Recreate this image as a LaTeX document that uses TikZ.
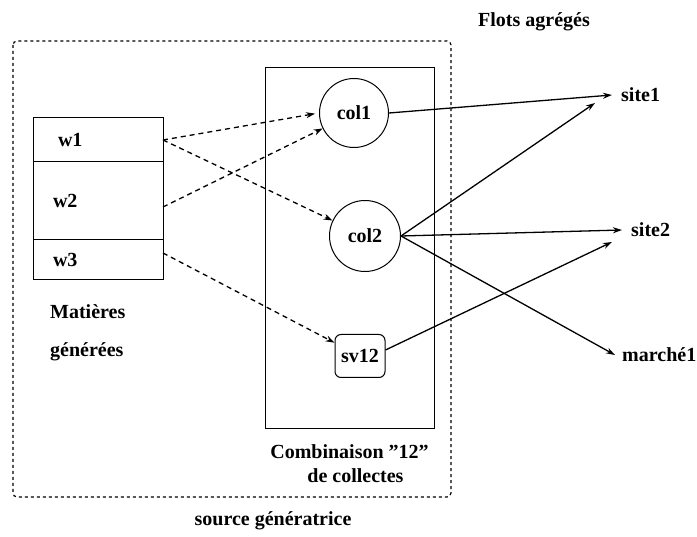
\documentclass[tikz,border=0pt]{standalone}
\usepackage{fontspec}
\setmainfont{Liberation Serif}
\usetikzlibrary{positioning,arrows.meta}

\begin{document}
\begin{tikzpicture}[x=1pt, y=-1pt,
    font=\fontsize{20}{24}\selectfont\bfseries,
    flux box/.style={draw, line width=1pt, minimum width=130pt, outer sep=0pt, text width=90pt, align=left, inner xsep=20pt},
    flux col/.style={circle, draw, line width=1pt, inner sep=0pt},
    flux site/.style={anchor=west, inner xsep=9pt, inner ysep=0pt},
    flux arrow/.style={-{Stealth[length=9pt,width=6pt]}, line width=1.3pt},
    flux dash/.style={flux arrow, dash pattern=on 5pt off 4pt}]

    \useasboundingbox (0,0) rectangle (697,537);

    % source generatrice
    \draw [line width=1.2pt, dash pattern=on 3pt off 3pt, rounded corners=4pt] (13,41) rectangle (451,497);
    \node (source) at (273,521) {source génératrice};
    \node (flots) at (534,22) {Flots agrégés};

    % matieres generees
    \node [flux box, minimum height=44pt] (w1) at (98,140) {\hspace{5pt}w1};
    \node [flux box, minimum height=78pt, below=0pt of w1] (w2) {w2};
    \node [flux box, minimum height=40pt, below=0pt of w2] (w3) {w3};
    \node [below right=24pt and 17pt of w3.south west, align=left, inner sep=0pt] (mat) {Matières\\[14pt]générées};

    % combinaison de collectes
    \node [draw, line width=1pt, minimum width=169pt, minimum height=361pt] (combo) at (349.5,248.5) {};
    \node [below=12pt of combo, align=center] (combolab) {Combinaison "12"\\\hspace{12pt}de collectes};
    \node [flux col, minimum size=69pt] (col1) at (354,113) {col1};
    \node [flux col, minimum size=71pt] (col2) at (365,236) {col2};
    \node [draw, line width=1pt, rounded corners=6pt, minimum width=50pt, minimum height=43pt, inner sep=2pt] (sv12) at (360,356) {sv12};

    % flots agreges
    \node [flux site] (site1) at (612,95) {site1};
    \node [flux site] (site2) at (622,230) {site2};
    \node [flux site, inner xsep=7pt] (marche) at (615,355) {marché1};

    \draw [flux dash, shorten >=4pt] (w1.east) -- (col1.west);
    \draw [flux dash] (w1.east) -- (col2);
    \draw [flux dash] ([shift={(0,6)}]w2.east) -- (col1);
    \draw [flux dash] ([shift={(0,-7)}]w3.east) -- (sv12);

    \draw [flux arrow] (col1.east) -- (site1.west);
    \draw [flux arrow] (col2.east) -- ([shift={(-17,8)}]site1.west);
    \draw [flux arrow] (col2.east) -- (site2.west);
    \draw [flux arrow] (col2.east) -- (marche.west);
    \draw [flux arrow] ([shift={(0,-6)}]sv12.east) -- ([shift={(-10,12)}]site2.west);

\end{tikzpicture}
\end{document}
